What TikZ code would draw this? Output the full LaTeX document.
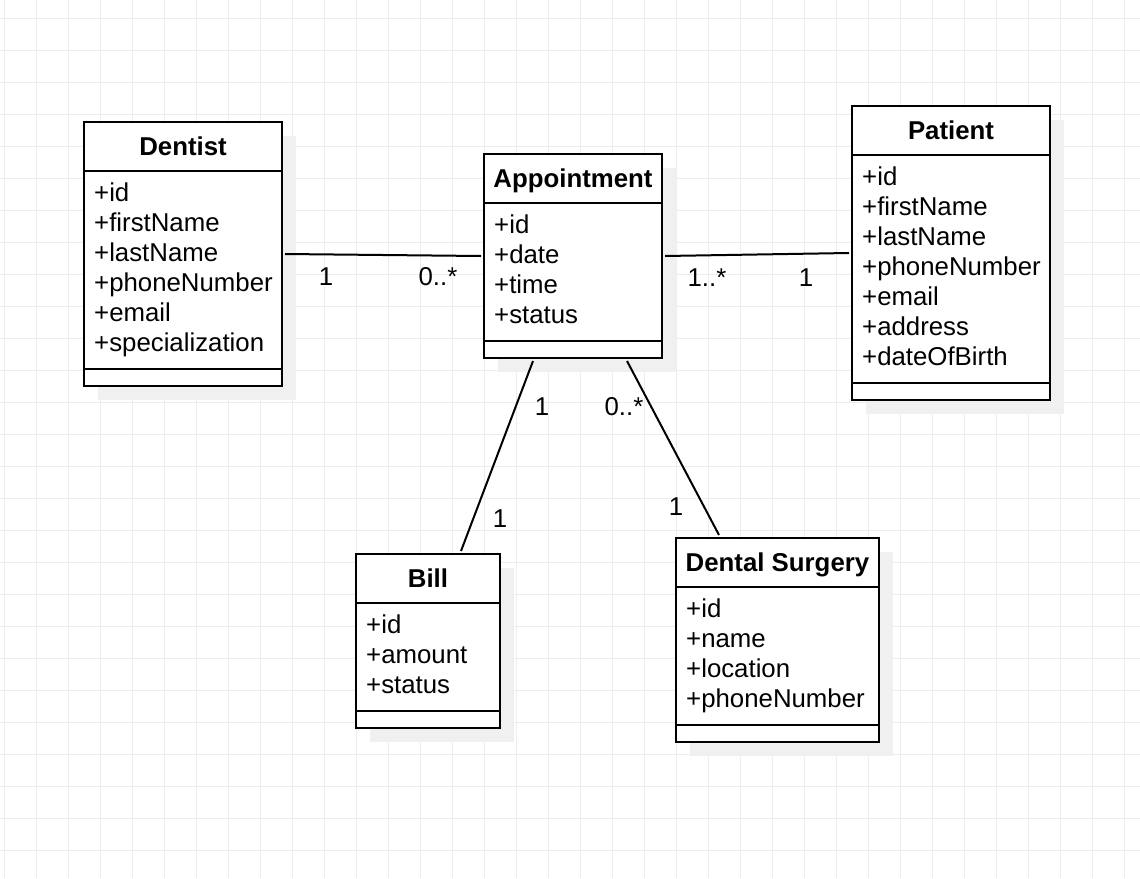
\documentclass[tikz,border=0pt]{standalone}
\usepackage{fontspec}
\setmainfont{Liberation Sans}
\usetikzlibrary{shadows}
\tikzset{
  gridline/.style={draw=black!7, line width=1pt},
  cls/.style={draw=black, line width=2pt, fill=white, inner sep=0pt,
    drop shadow={shadow xshift=14pt, shadow yshift=-14pt, fill=black!6, opacity=1}},
  sepline/.style={draw=black, line width=2pt},
  assoc/.style={draw=black, line width=2pt},
  ttl/.style={anchor=base, inner sep=0pt, font=\fontsize{25.8}{30}\selectfont\bfseries},
  attr/.style={anchor=base west, inner sep=0pt, font=\fontsize{25.8}{30}\selectfont},
  mult/.style={anchor=base, inner sep=0pt, font=\fontsize{25.8}{30}\selectfont},
}
% #1 name, #2 cx, #3 cy, #4 w, #5 h, #6 title, #7 title baseline, #8 first attr baseline, #9 attrs
\newcommand{\umlclass}[9]{%
  \node[cls, minimum width=#4pt, minimum height=#5pt] (#1) at (#2,#3) {};
  \draw[sepline] ([yshift=-50pt]#1.north west) -- ([yshift=-50pt]#1.north east);
  \draw[sepline] ([yshift=18pt]#1.south west) -- ([yshift=18pt]#1.south east);
  \node[ttl] (#1-title) at (#2,#7) {#6};
  \foreach \t [count=\i from 0] in {#9}
    \node[attr] (#1-a\i) at ({#2-#4/2+10},{#8+30*\i}) {\t};
}
\begin{document}
\begin{tikzpicture}[x=1pt,y=-1pt]
  \useasboundingbox (0,0) rectangle (1140,878);
  \fill[white] (0,0) rectangle (1140,878);
  \foreach \x in {4,36,...,1140} \draw[gridline] (\x,0) -- (\x,878);
  \foreach \y in {18,50,...,878} \draw[gridline] (0,\y) -- (1140,\y);

  \umlclass{dentist}{183}{254}{198}{264}{Dentist}{155}{201}{+id,+firstName,+lastName,+phoneNumber,+email,+specialization}
  \umlclass{appt}{573}{256}{178}{204}{Appointment}{187}{233}{+id,+date,+time,+status}
  \umlclass{patient}{951}{253}{198}{294}{Patient}{139}{185}{+id,+firstName,+lastName,+phoneNumber,+email,+address,+dateOfBirth}
  \umlclass{bill}{428}{641}{144}{174}{Bill}{587}{633}{+id,+amount,+status}
  \umlclass{dental}{777.5}{640}{203}{204}{Dental Surgery}{571}{617}{+id,+name,+location,+phoneNumber}

  \draw[assoc] ([xshift=2pt]dentist.east) -- ([xshift=-2pt]appt.west);
  \draw[assoc] ([xshift=2pt]appt.east) -- ([xshift=-2pt]patient.west);
  \draw[assoc] ([xshift=50pt,yshift=-2pt]appt.south west) -- ([xshift=106pt,yshift=2pt]bill.north west);
  \draw[assoc] ([xshift=144pt,yshift=-2pt]appt.south west) -- ([xshift=44pt,yshift=2pt]dental.north west);

  \node[mult] (m1) at (326,285) {1};
  \node[mult] (m2) at (438,285) {0..*};
  \node[mult] (m3) at (707,286) {1..*};
  \node[mult] (m4) at (806,286) {1};
  \node[mult] (m5) at (542,415) {1};
  \node[mult] (m6) at (624,415) {0..*};
  \node[mult] (m7) at (500,527) {1};
  \node[mult] (m8) at (676,515) {1};
\end{tikzpicture}
\end{document}
